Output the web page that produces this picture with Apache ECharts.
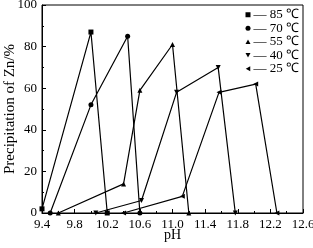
<!DOCTYPE html>
<html>
<head>
<meta charset="utf-8">
<script src="https://cdn.jsdelivr.net/npm/echarts@6/dist/echarts.min.js"></script>
<style>
html,body{margin:0;padding:0;background:#fff;}
#chart{width:313px;height:248px;}
</style>
</head>
<body>
<div id="chart"></div>
<script>
// series names (legend order)
const names = ['85 ℃', '70 ℃', '55 ℃', '40 ℃', '25 ℃'];
// [pH, precipitation %]
const d85 = [[9.4, 2], [10.0, 87], [10.2, 0]];
const d70 = [[9.5, 0], [10.0, 52], [10.45, 85], [10.6, 0]];
const d55 = [[9.6, 0], [10.4, 14], [10.6, 59], [11.0, 81], [11.2, 0]];
const d40 = [[10.06, 0], [10.62, 6], [11.05, 58], [11.56, 70], [11.77, 0]];
const d25 = [[10.4, 0], [11.12, 8], [11.57, 58], [12.02, 62], [12.28, 0]];

// marker shapes: square, circle, up / down / left triangle
const symbols = [
    'rect',
    'circle',
    'path://M5,0L10,9L0,9Z',
    'path://M0,0L10,0L5,9Z',
    'path://M9,0L9,10L0,5Z'
];
const allData = [d85, d70, d55, d40, d25];

const font = '"Liberation Serif", "Times New Roman", serif';

const chart = echarts.init(document.getElementById('chart'), null, {renderer: 'canvas'});

const series = allData.map(function (d, i) {
    return {
        name: names[i],
        type: 'line',
        data: d,
        symbol: symbols[i],
        symbolSize: 5,
        showSymbol: true,
        lineStyle: {color: '#000', width: 1.2},
        itemStyle: {color: '#000'},
        animation: false
    };
});

chart.setOption({
    backgroundColor: '#fff',
    textStyle: {fontFamily: font},
    grid: {
        left: 42, right: 10, top: 5, bottom: 35,
        outerBoundsMode: 'none',
        containLabel: false,
        show: true, borderColor: '#000', borderWidth: 1
    },
    legend: {
        right: 9, top: 3,
        orient: 'vertical',
        itemGap: 0,
        itemWidth: 5, itemHeight: 5,
        data: names.map(function (n, i) {
            return {name: n, icon: symbols[i]};
        }),
        formatter: function (n) { return '— ' + n; },
        textStyle: {fontFamily: font, fontSize: 13, lineHeight: 13.5, color: '#000', padding: [0, 0, 0, -2]}
    },
    xAxis: {
        type: 'value',
        min: 9.4, max: 12.6, interval: 0.4,
        name: 'pH', nameLocation: 'middle', nameGap: 15,
        nameMoveOverlap: false,
        nameTextStyle: {fontFamily: font, fontSize: 14, color: '#000'},
        axisLine: {lineStyle: {color: '#000'}},
        axisTick: {inside: true, length: 4, lineStyle: {color: '#000'}},
        minorTick: {show: true, splitNumber: 2, length: 2, lineStyle: {color: '#000'}},
        splitLine: {show: false},
        axisLabel: {
            fontFamily: font, fontSize: 13, color: '#000', margin: 5,
            formatter: function (v) { return v.toFixed(1); }
        }
    },
    yAxis: {
        type: 'value',
        min: 0, max: 100, interval: 20,
        name: 'Precipitation of Zn/%', nameLocation: 'middle', nameGap: 24,
        nameMoveOverlap: false,
        nameTextStyle: {fontFamily: font, fontSize: 15, color: '#000'},
        axisLine: {lineStyle: {color: '#000'}},
        axisTick: {inside: true, length: 4, lineStyle: {color: '#000'}},
        minorTick: {show: true, splitNumber: 2, length: 2, lineStyle: {color: '#000'}},
        splitLine: {show: false},
        axisLabel: {fontFamily: font, fontSize: 13, color: '#000', margin: 5}
    },
    series: series
});
</script>
</body>
</html>
